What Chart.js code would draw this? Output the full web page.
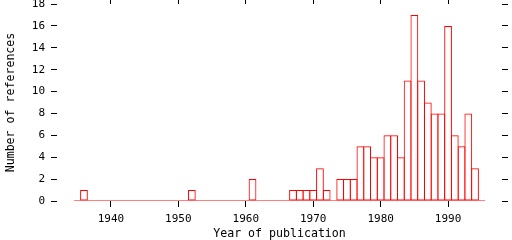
<!DOCTYPE html>
<html>
<head>
<meta charset="utf-8">
<script src="https://cdn.jsdelivr.net/npm/chart.js@4/dist/chart.umd.min.js"></script>
<style>
  html, body { margin: 0; padding: 0; background: #fff; }
  #wrap { width: 512px; height: 240px; position: relative; }
</style>
</head>
<body>
<div id="wrap"><canvas id="hist"></canvas></div>
<script>
// publication years and number of references per year
const years  = [1936, 1952, 1961, 1967, 1968, 1969, 1970, 1971, 1972, 1974, 1975, 1976,
                1977, 1978, 1979, 1980, 1981, 1982, 1983, 1984, 1985, 1986, 1987, 1988,
                1989, 1990, 1991, 1992, 1993, 1994];
const counts = [1, 1, 2, 1, 1, 1, 1, 3, 1, 2, 2, 2,
                5, 5, 4, 4, 6, 6, 4, 11, 17, 11, 9, 8,
                8, 16, 6, 5, 8, 3];
const firstYear = 1935, lastYear = 1995;   // histogram range (zero baseline)
const xTicks = [1940, 1950, 1960, 1970, 1980, 1990];
const yTicks = [0, 2, 4, 6, 8, 10, 12, 14, 16, 18];

const RED  = '#ff0000';
const FONT = { family: 'DejaVu Sans Mono', size: 11 };
const TITLE_FONT = { family: 'DejaVu Sans Mono', size: 11.6 };
const setTicks = list => scale => { scale.ticks = list.map(v => ({ value: v })); };
const tickGrid = len => ({ offset: false, drawOnChartArea: false, drawTicks: true, tickLength: len, color: '#000', lineWidth: 1 });
// fixed box size, no extra room for half labels
const fixBox = (w, h) => s => {
  if (w != null) s.width = w;
  if (h != null) s.height = h;
  s.paddingTop = s.paddingBottom = s.paddingLeft = s.paddingRight = 0;
};

new Chart(document.getElementById('hist'), {
  type: 'bar',
  data: {
    datasets: [
      {
        data: years.map((y, i) => ({ x: y, y: counts[i] })),
        backgroundColor: 'rgba(0,0,0,0)',
        borderColor: RED, borderWidth: 1, borderSkipped: false,
        barPercentage: 1.15, categoryPercentage: 1,
      },
      {
        type: 'line',
        data: [{ x: firstYear - 0.5, y: 0 }, { x: lastYear + 0.5, y: 0 }],
        borderColor: RED, borderWidth: 1, pointRadius: 0,
      },
    ],
  },
  options: {
    responsive: true, maintainAspectRatio: false, animation: false,
    layout: { padding: 0 },
    plugins: { legend: { display: false }, tooltip: { enabled: false } },
    scales: {
      x: {
        type: 'linear', position: 'bottom', min: 1932, max: 1998, offset: false,
        afterBuildTicks: setTicks(xTicks),
        afterFit: fixBox(null, 39),
        grid: tickGrid(6), border: { display: false },
        ticks: { color: '#000', font: FONT, padding: 6, maxRotation: 0, callback: v => String(v) },
        title: { display: true, text: 'Year of publication', color: '#000',
                 font: { ...TITLE_FONT, lineHeight: 1 }, padding: 0 },
      },
      x2: {
        type: 'linear', position: 'top', min: 1932, max: 1998, offset: false,
        afterBuildTicks: setTicks(xTicks),
        afterFit: fixBox(null, 4),
        grid: tickGrid(4), border: { display: false },
        ticks: { callback: () => '', padding: 0 },
      },
      y: {
        position: 'left', min: 0, max: 18,
        afterBuildTicks: setTicks(yTicks),
        afterFit: fixBox(57, null),
        grid: tickGrid(6), border: { display: false },
        ticks: { color: '#000', font: FONT, padding: 6 },
        title: { display: true, text: 'Number of references', color: '#000', font: TITLE_FONT, padding: { top: 4 } },
      },
      y2: {
        position: 'right', min: 0, max: 18,
        afterBuildTicks: setTicks(yTicks),
        afterFit: fixBox(10, null),
        grid: tickGrid(6), border: { display: false },
        ticks: { callback: () => '', padding: 0 },
      },
    },
  },
});
</script>
</body>
</html>
